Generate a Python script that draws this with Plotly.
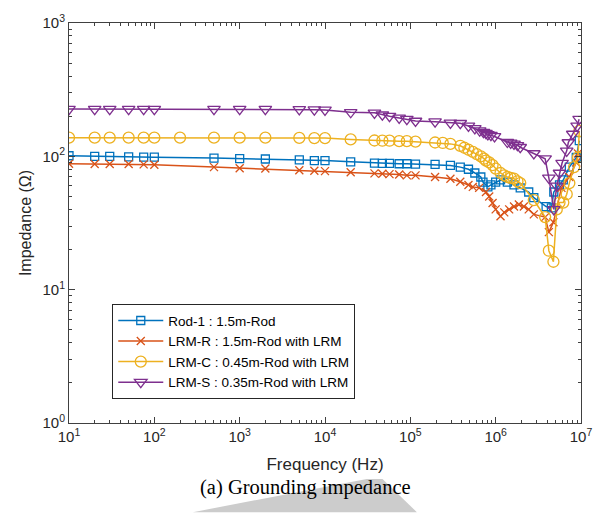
import plotly.graph_objects as go

# ---------------- data ----------------
f_rod1 = [10, 20, 30, 50, 75, 100, 500, 1e3, 2e3, 5e3, 7.5e3, 1e4, 2e4,
          3.8e4, 4.7e4, 5.7e4, 7.4e4, 9.1e4, 1.15e5, 1.95e5, 2.95e5, 3.85e5,
          4.8e5, 5.7e5, 6.7e5, 7.1e5, 8.1e5, 8.8e5, 1.0e6, 1.14e6, 1.37e6,
          1.64e6, 1.94e6, 2.44e6, 2.8e6, 3.9e6, 4.5e6, 4.8e6, 5.6e6, 6.2e6,
          7.3e6, 8.8e6, 9.55e6]
z_rod1 = [101, 100, 100, 99, 98.5, 98.5, 97, 96, 95.5, 94, 93, 93, 91,
          89, 88.5, 88.5, 88, 88, 87.5, 87, 85.5, 83,
          80, 75, 70, 64, 59, 61, 64, 66.5, 64,
          61, 58, 54, 49, 42, 41, 54, 61, 66.5,
          83, 98, 131]

f_lrmr = [10, 20, 30, 50, 75, 100, 500, 1e3, 2e3, 5e3, 7.5e3, 1e4, 2e4,
          3.8e4, 4.7e4, 5.7e4, 7.4e4, 9.1e4, 1.15e5, 1.95e5, 2.95e5, 3.85e5,
          4.8e5, 5.4e5, 6.4e5, 7.7e5, 8.4e5, 9.2e5, 1.0e6, 1.14e6, 1.26e6,
          1.44e6, 1.64e6, 1.87e6, 2.14e6, 2.44e6, 2.8e6, 3.8e6, 4.2e6, 4.75e6,
          5.9e6, 7.3e6, 8.8e6, 9.2e6]
z_lrmr = [88, 87.5, 87.5, 87.5, 87, 86.5, 83, 81.5, 81, 78.7, 78, 77.5, 76,
          74.5, 74, 73.5, 73, 72, 72, 70, 68, 64.5,
          61, 59, 58, 54, 50, 44.7, 40, 35.5, 38,
          40, 42, 43.5, 42, 40, 36.7, 35, 27, 32,
          58, 70, 90, 105]

f_lrmc = [10, 20, 30, 50, 75, 100, 200, 500, 1e3, 2e3, 5e3, 7.5e3, 1e4, 2e4,
          3.8e4, 4.7e4, 5.7e4, 7.4e4, 9.1e4, 1.15e5, 1.95e5, 2.4e5, 2.95e5,
          3.85e5, 4.3e5, 4.8e5, 5.4e5, 6.0e5, 6.7e5, 7.3e5, 7.7e5, 8.4e5,
          9.2e5, 1.0e6, 1.14e6, 1.26e6, 1.37e6, 1.5e6, 1.64e6, 1.8e6, 1.94e6,
          2.8e6, 3.8e6, 4.2e6, 4.75e6, 5.2e6, 5.6e6, 6.2e6, 6.8e6, 7.3e6,
          8.3e6, 9.2e6, 9.55e6]
z_lrmc = [138, 138, 138, 138, 138, 138, 138, 138, 138, 138, 137.5, 137, 137, 134,
          131.5, 131, 131, 130, 130, 129, 127, 126, 124,
          120, 116, 112, 108, 104, 100, 96, 93, 90,
          86, 81, 75, 72, 70, 69, 68, 65, 63,
          47, 35, 19.6, 16.2, 40, 45, 45, 52, 63,
          83, 98, 155]

f_lrms = [10, 20, 30, 50, 75, 100, 500, 1e3, 2e3, 5e3, 7.5e3, 1e4, 2e4,
          3.8e4, 4.7e4, 5.7e4, 7.4e4, 9.1e4, 1.15e5, 1.95e5, 2.95e5, 3.85e5,
          4.8e5, 5.7e5, 6.5e5, 7.2e5, 7.7e5, 8.1e5, 8.8e5, 9.7e5, 1.37e6,
          1.5e6, 1.64e6, 1.8e6, 1.94e6, 2.8e6, 3.8e6, 4.2e6, 4.8e6, 5.2e6,
          5.6e6, 6.0e6, 6.8e6, 7.1e6, 8.0e6, 9.0e6, 9.5e6]
z_lrms = [226, 226, 226, 226, 226, 226, 226, 226, 226, 225, 224, 223, 214,
          212, 205, 200, 194, 190, 184, 182, 178, 177,
          169, 162, 156, 152, 149, 146, 144, 141, 128,
          126, 124, 121, 117, 105, 96, 69, 40, 60,
          75, 89, 110, 127, 147, 169, 190]

series_names = ["Rod-1 : 1.5m-Rod", "LRM-R : 1.5m-Rod with LRM",
                "LRM-C : 0.45m-Rod with LRM", "LRM-S : 0.35m-Rod with LRM"]

x_tickvals = [1e1, 1e2, 1e3, 1e4, 1e5, 1e6, 1e7]
x_ticktext = ["10<sup>1</sup>", "10<sup>2</sup>", "10<sup>3</sup>", "10<sup>4</sup>",
              "10<sup>5</sup>", "10<sup>6</sup>", "10<sup>7</sup>"]
y_tickvals = [1, 10, 100, 1000]
y_ticktext = ["10<sup>0</sup>", "10<sup>1</sup>", "10<sup>2</sup>", "10<sup>3</sup>"]

# minor tick positions (2..9 within each decade)
x_minor = [d * 10 ** k for k in range(1, 7) for d in range(2, 10)]
y_minor = [d * 10 ** k for k in range(0, 3) for d in range(2, 10)]

# ---------------- styling ----------------
colors = ["#0072BD", "#D95319", "#EDB120", "#7E2F8E"]
symbols = ["square-open", "x-thin-open", "circle-open", "triangle-down-open"]
sizes = [8, 8, 11, 11]
data = [(f_rod1, z_rod1), (f_lrmr, z_lrmr), (f_lrmc, z_lrmc), (f_lrms, z_lrms)]

fig = go.Figure()
for (fx, zy), name, c, s, sz in zip(data, series_names, colors, symbols, sizes):
    fig.add_trace(go.Scatter(
        x=fx, y=zy, name=name, mode="lines+markers",
        line=dict(color=c, width=1.5),
        marker=dict(symbol=s, size=sz, color=c, line=dict(color=c, width=1.3)),
    ))

axis_color = "#404040"
sans = "Liberation Sans, Arial, sans-serif"


def axis_style(minor_vals):
    return dict(
        type="log", showgrid=False, zeroline=False,
        showline=True, linecolor=axis_color, linewidth=1, mirror="allticks",
        ticks="inside", ticklen=6, tickcolor=axis_color, tickwidth=1,
        minor=dict(ticks="inside", ticklen=3, tickcolor=axis_color, tickwidth=1,
                   tickvals=minor_vals, showgrid=False),
        tickfont=dict(family=sans, size=15, color="#262626"),
    )


fig.update_layout(
    width=604, height=514,
    margin=dict(l=69, r=14, t=15, b=91),
    paper_bgcolor="white", plot_bgcolor="white",
    xaxis=dict(range=[1, 7], tickvals=x_tickvals, ticktext=x_ticktext,
               title=dict(text="Frequency (Hz)", standoff=14,
                          font=dict(family=sans, size=17, color="#262626")),
               **axis_style(x_minor)),
    yaxis=dict(range=[0, 3], tickvals=y_tickvals, ticktext=y_ticktext,
               title=dict(text="Impedance (Ω)", standoff=6,
                          font=dict(family=sans, size=16, color="#262626")),
               **axis_style(y_minor)),
    legend=dict(x=0.0845, y=0.297, xanchor="left", yanchor="top",
                bgcolor="white", bordercolor="#262626", borderwidth=1,
                font=dict(family=sans, size=13.5, color="#000000"),
                itemwidth=45, tracegroupgap=0),
    showlegend=True,
)

# grey watermark band behind the caption
fig.add_shape(type="path", xref="paper", yref="paper", layer="below",
              path="M 0.5816 -0.1397 L 0.6123 -0.1397 L 0.6795 -0.2230 L 0.2418 -0.2230 Z",
              fillcolor="#cccccc", line=dict(width=0))

fig.add_annotation(text="(a) Grounding impedance", xref="paper", yref="paper",
                   x=0.4616, y=-0.162, xanchor="center", yanchor="middle", showarrow=False,
                   font=dict(family="Liberation Serif, Times New Roman, serif", size=20.5, color="#000000"))

fig.write_html("out.html")
